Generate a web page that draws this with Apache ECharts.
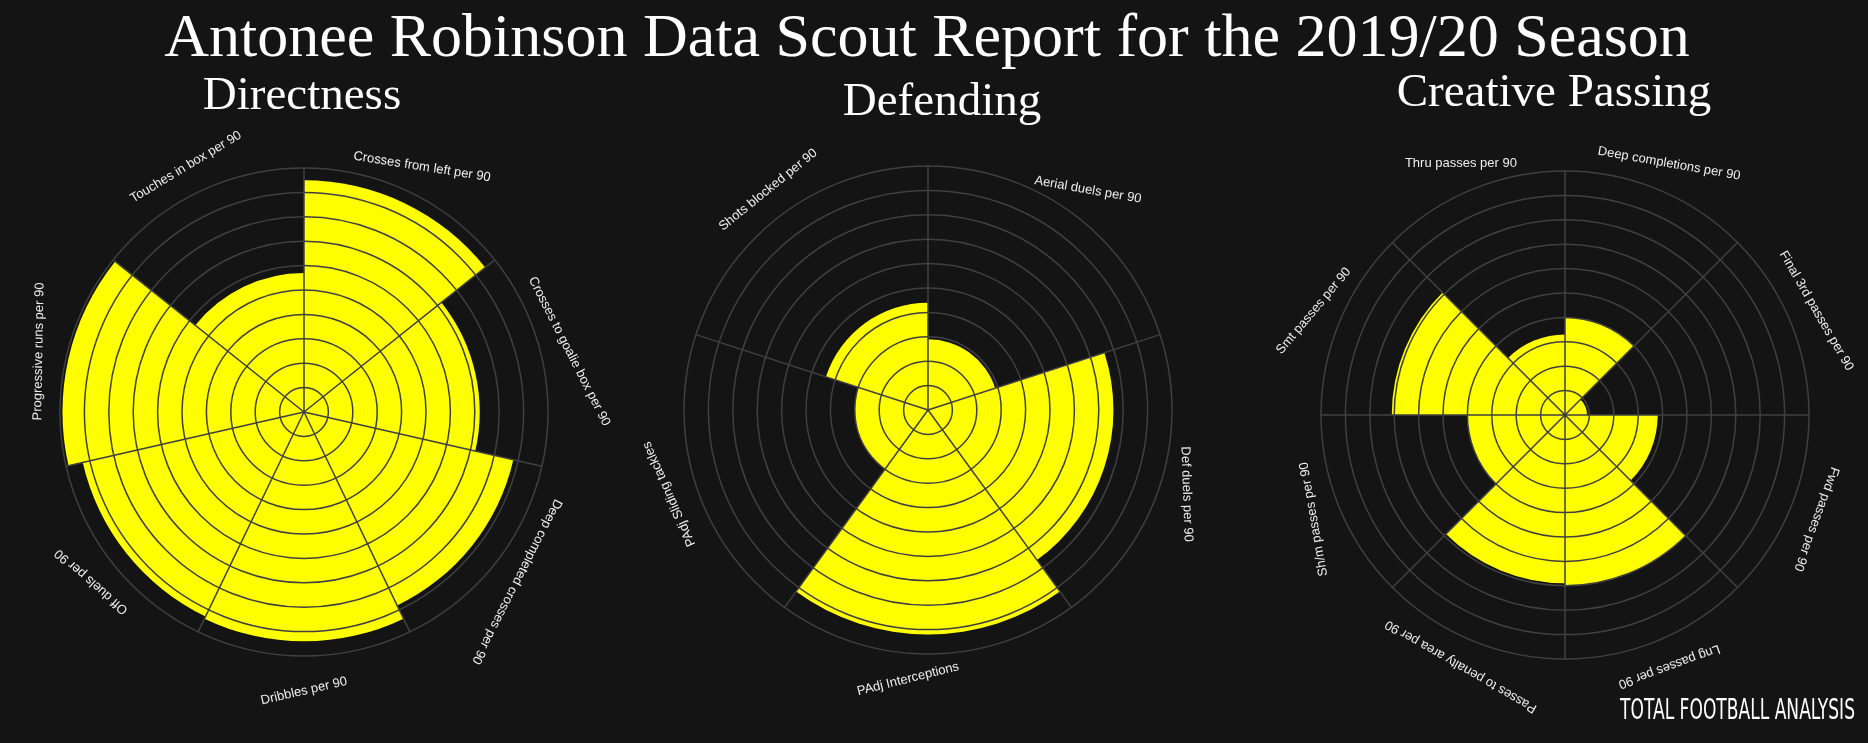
<!DOCTYPE html>
<html>
<head>
<meta charset="utf-8">
<script src="https://cdn.jsdelivr.net/npm/echarts@6/dist/echarts.min.js"></script>
<style>
html,body{margin:0;padding:0;background:#141414;}
#c{width:1868px;height:743px;}
</style>
</head>
<body>
<div id="c"></div>
<script>
// ---------- DATA ----------
const mainTitle = 'Antonee Robinson Data Scout Report for the 2019/20 Season';
const panelTitles = ['Directness', 'Defending', 'Creative Passing'];
const brandText = 'TOTAL FOOTBALL ANALYSIS';

const directnessCats = ['Crosses from left per 90', 'Crosses to goalie box per 90', 'Deep completed crosses per 90',
  'Dribbles per 90', 'Off duels per 90', 'Progressive runs per 90', 'Touches in box per 90'];
const directnessVals = [95, 72, 88, 94, 93, 99, 57];

const defendingCats = ['Aerial duels per 90', 'Def duels per 90', 'PAdj Interceptions',
  'PAdj Sliding tackles', 'Shots blocked per 90'];
const defendingVals = [29, 76, 92, 30, 44];

const passingCats = ['Deep completions per 90', 'Final 3rd passes per 90', 'Fwd passes per 90', 'Lng passes per 90',
  'Passes to penalty area per 90', 'Sh/m passes per 90', 'Smt passes per 90', 'Thru passes per 90'];
const passingVals = [40, 9, 38, 70, 69, 40, 71, 33];

const radiusMin = 0;
const radiusMax = 100;
const radiusStep = 10;

// ---------- STYLE / LAYOUT ----------
const BG = '#141414';
const GRID = '#404040';
const BAR = '#ffff00';
const LABEL_R = 111.5; // label distance in radius-axis units
const panels = [
  { cats: directnessCats, vals: directnessVals, center: [304, 412], radius: 244,
    rot: [9, 63, 117, -13, 221, 271, 329],
    shift: [[0, 0], [0, 0], [0, 0], [0, 7], [0, 0], [0, 0], [0, 0]],
    title: panelTitles[0], tpos: [302, 97] },
  { cats: defendingCats, vals: defendingVals, center: [928, 410], radius: 244,
    rot: [10, 88, -14, 246, 321],
    shift: [[0, 0], [0, 0], [-20, -3], [0, 0], [0, 0]],
    title: panelTitles[1], tpos: [942, 103] },
  { cats: passingCats, vals: passingVals, center: [1565, 415], radius: 244,
    rot: [10, 60, 110, 160, 210, 260, 310, 360],
    shift: [[0, 0], [0, 0], [0, 0], [0, 0], [0, 0], [0, 0], [0, 0], [0, 0]],
    title: panelTitles[2], tpos: [1554, 94] }
];

const polar = [], angleAxis = [], radiusAxis = [], series = [];
panels.forEach((p, k) => {
  polar.push({ center: p.center, radius: p.radius });
  angleAxis.push({
    polarIndex: k, type: 'category', data: p.cats, startAngle: 90, clockwise: true,
    boundaryGap: true, z: 5,
    axisLine: { show: false }, axisTick: { show: false, interval: 0 },
    axisLabel: { show: false, interval: 0 },
    splitLine: { show: true, interval: 0, lineStyle: { color: GRID, width: 1.5 } }
  });
  radiusAxis.push({
    polarIndex: k, type: 'value', min: radiusMin, max: radiusMax, interval: radiusStep, z: 5,
    axisLine: { show: false }, axisTick: { show: false }, axisLabel: { show: false },
    splitLine: { show: true, lineStyle: { color: GRID, width: 1.5 } }
  });
  series.push({
    type: 'bar', coordinateSystem: 'polar', polarIndex: k, data: p.vals,
    barCategoryGap: '0%', itemStyle: { color: BAR }, z: 2, silent: true
  });
  series.push({
    type: 'custom', coordinateSystem: 'polar', polarIndex: k, z: 10, silent: true,
    data: p.cats.map((c, i) => [LABEL_R, i]),
    renderItem: function (params, api) {
      const i = params.dataIndex;
      const pt = api.coord([api.value(0), api.value(1)]);
      return {
        type: 'text', x: pt[0] + p.shift[i][0], y: pt[1] + p.shift[i][1],
        rotation: -p.rot[i] * Math.PI / 180,
        style: {
          text: p.cats[i], fill: '#eeeeee', fontSize: 13,
          fontFamily: '"Liberation Sans", Arial, sans-serif',
          align: 'center', verticalAlign: 'middle'
        }
      };
    }
  });
});

const graphic = [
  { type: 'text', x: 927, y: 40, silent: true,
    style: { text: mainTitle, fill: '#ffffff', fontSize: 62, fontFamily: '"Liberation Serif", serif',
      align: 'center', verticalAlign: 'middle' } },
  { type: 'text', x: 1855, y: 712, scaleY: 1.45, silent: true,
    style: { text: brandText, fill: '#ffffff', fontSize: 19,
      fontFamily: '"Liberation Sans Narrow", "DejaVu Sans Condensed", sans-serif',
      align: 'right', verticalAlign: 'middle' } }
];
panels.forEach(p => {
  graphic.push({ type: 'text', x: p.tpos[0], y: p.tpos[1], silent: true,
    style: { text: p.title, fill: '#ffffff', fontSize: 47, fontFamily: '"Liberation Serif", serif',
      align: 'center', verticalAlign: 'middle' } });
});

const chart = echarts.init(document.getElementById('c'));
chart.setOption({
  backgroundColor: BG,
  animation: false,
  polar, angleAxis, radiusAxis, series, graphic
});
</script>
</body>
</html>
